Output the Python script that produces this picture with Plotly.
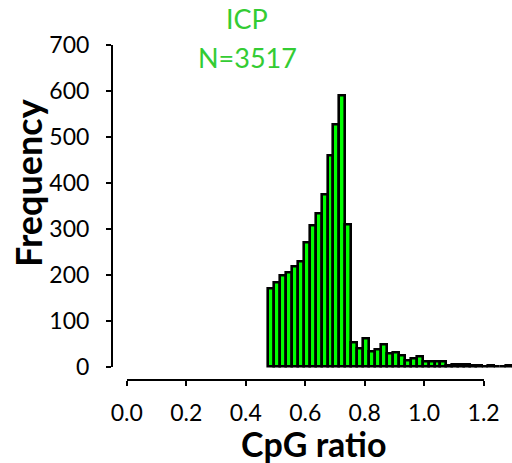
import plotly.graph_objects as go

# Histogram of CpG ratio for ICP promoters (bins of width 0.02)
bin_left = 0.475
bin_width = 0.02
counts = [170, 182, 198, 205, 217, 228, 269, 307, 333, 374, 459, 526, 590, 309, 53,
          40, 60, 32, 38, 48, 28, 31, 24, 13, 17, 22, 10, 10, 10, 10,
          2, 4, 4, 4, 3, 2, 1, 2, 1, 1, 2, 1]
centers = [round(bin_left + bin_width * (i + 0.5), 4) for i in range(len(counts))]

x_ticks = [0.0, 0.2, 0.4, 0.6, 0.8, 1.0, 1.2]
y_ticks = [0, 100, 200, 300, 400, 500, 600, 700]

title_lines = ["ICP", "N=3517"]
x_title = "CpG ratio"
y_title = "Frequency"

# page geometry (pixels)
W, H = 512, 463
X_ORIGIN, X_END = 126.8, 483.6       # pixel of x=0 and x=1.2
Y_ZERO, Y_TOP = 366.5, 44.5          # pixel of y=0 and y=700
Y_AXIS_PX = 112
X_AXIS_PY = 380
x_scale = (X_END - X_ORIGIN) / 1.2
y_scale = (Y_ZERO - Y_TOP) / 700


def px(v):
    return v / W


def py(v):
    return 1 - v / H


FONT = "Lato"
GREEN = "#00FF00"
TITLE_GREEN = "rgb(51,204,51)"

hidden = dict(showline=False, showticklabels=False, ticks="", showgrid=False,
              zeroline=False, fixedrange=True, automargin=False)

fig = go.Figure()
fig.add_trace(go.Bar(
    x=centers, y=counts, width=bin_width,
    marker=dict(color=GREEN, line=dict(color="black", width=2.6)),
    xaxis="x", yaxis="y", hoverinfo="skip",
))
# carrier trace for the visible axes
fig.add_trace(go.Scatter(x=[None], y=[None], xaxis="x2", yaxis="y2",
                         mode="markers", hoverinfo="skip"))

pad = 6
fig.update_layout(
    width=W, height=H,
    margin=dict(l=0, r=0, t=0, b=0, pad=0, autoexpand=False),
    paper_bgcolor="white", plot_bgcolor="rgba(0,0,0,0)",
    showlegend=False, bargap=0,
    font=dict(family=FONT, color="black"),
    xaxis=dict(domain=[px(Y_AXIS_PX), 1],
               range=[(Y_AXIS_PX - X_ORIGIN) / x_scale, (W - X_ORIGIN) / x_scale],
               anchor="y", **hidden),
    yaxis=dict(domain=[py(Y_ZERO + pad), py(Y_TOP)],
               range=[-pad / y_scale, 700], anchor="x", **hidden),
    xaxis2=dict(domain=[px(X_ORIGIN), px(X_END)], range=[0, 1.2],
                anchor="free", position=py(X_AXIS_PY), automargin=False,
                showline=True, linecolor="black", linewidth=2,
                ticks="outside", ticklen=5, tickwidth=2, tickcolor="black",
                tickvals=x_ticks, ticktext=[f"{v:.1f}" for v in x_ticks],
                tickfont=dict(family=FONT, size=23, color="black"),
                ticklabelstandoff=7,
                showgrid=False, zeroline=False, fixedrange=True),
    yaxis2=dict(domain=[py(Y_ZERO), py(Y_TOP)], range=[0, 700],
                anchor="free", position=px(Y_AXIS_PX), automargin=False,
                showline=True, linecolor="black", linewidth=2,
                ticks="outside", ticklen=5, tickwidth=2, tickcolor="black",
                tickvals=y_ticks,
                tickfont=dict(family=FONT, size=23, color="black"),
                ticklabelstandoff=12,
                showgrid=False, zeroline=False, fixedrange=True),
)

fig.add_annotation(text=title_lines[0], x=px(247), y=py(18), xref="paper", yref="paper",
                   showarrow=False, xanchor="center", yanchor="middle",
                   font=dict(family=FONT, size=27, color=TITLE_GREEN))
fig.add_annotation(text=title_lines[1], x=px(247), y=py(58), xref="paper", yref="paper",
                   showarrow=False, xanchor="center", yanchor="middle",
                   font=dict(family=FONT, size=27, color=TITLE_GREEN))
fig.add_annotation(text=f"<b>{x_title}</b>", x=px(314), y=py(443), xref="paper", yref="paper",
                   showarrow=False, xanchor="center", yanchor="middle",
                   font=dict(family=FONT, size=34, color="black"))
fig.add_annotation(text=f"<b>{y_title}</b>", x=px(28), y=py(183), xref="paper", yref="paper",
                   showarrow=False, xanchor="center", yanchor="middle", textangle=-90,
                   font=dict(family=FONT, size=36, color="black"))

fig.write_html("out.html")
